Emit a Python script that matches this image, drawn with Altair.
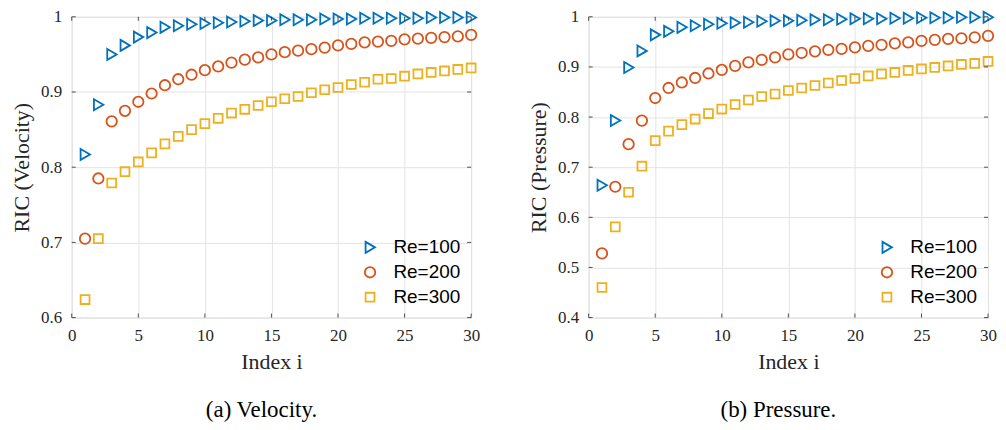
import altair as alt
import pandas as pd

# ---------------- data ----------------
idx = list(range(1, 31))
series_names = ["Re=100", "Re=200", "Re=300"]
colors = ["#0072BD", "#D95319", "#EDB120"]
shapes = ["M-0.85,-1.05L0.95,0L-0.85,1.05Z", "circle",
          "M-0.85,-0.85L0.85,-0.85L0.85,0.85L-0.85,0.85Z"]

vel_re100 = [0.817, 0.883, 0.950, 0.962, 0.973, 0.979, 0.986, 0.988, 0.990, 0.991,
             0.992, 0.993, 0.994, 0.995, 0.995, 0.996, 0.996, 0.996, 0.997, 0.997,
             0.997, 0.998, 0.998, 0.998, 0.998, 0.998, 0.999, 0.999, 0.999, 0.999]
vel_re200 = [0.705, 0.785, 0.861, 0.875, 0.887, 0.898, 0.909, 0.917, 0.923, 0.929,
             0.934, 0.939, 0.943, 0.946, 0.950, 0.953, 0.955, 0.957, 0.959, 0.962,
             0.964, 0.966, 0.967, 0.968, 0.970, 0.971, 0.972, 0.973, 0.974, 0.976]
vel_re300 = [0.624, 0.705, 0.779, 0.794, 0.807, 0.819, 0.831, 0.841, 0.850, 0.858,
             0.865, 0.872, 0.877, 0.882, 0.887, 0.891, 0.894, 0.899, 0.903, 0.906,
             0.910, 0.913, 0.917, 0.918, 0.921, 0.924, 0.926, 0.928, 0.930, 0.932]

pres_re100 = [0.664, 0.793, 0.899, 0.932, 0.964, 0.971, 0.979, 0.982, 0.985, 0.987,
              0.988, 0.989, 0.991, 0.992, 0.992, 0.993, 0.994, 0.994, 0.995, 0.996,
              0.996, 0.996, 0.997, 0.997, 0.998, 0.998, 0.998, 0.999, 0.999, 0.999]
pres_re200 = [0.528, 0.661, 0.746, 0.793, 0.838, 0.858, 0.869, 0.878, 0.887, 0.894,
              0.902, 0.909, 0.914, 0.919, 0.925, 0.928, 0.931, 0.934, 0.936, 0.939,
              0.942, 0.944, 0.947, 0.949, 0.952, 0.954, 0.956, 0.957, 0.959, 0.962]
pres_re300 = [0.460, 0.581, 0.650, 0.702, 0.753, 0.772, 0.785, 0.796, 0.807, 0.816,
              0.825, 0.834, 0.841, 0.846, 0.853, 0.858, 0.863, 0.868, 0.873, 0.877,
              0.882, 0.886, 0.889, 0.893, 0.896, 0.899, 0.902, 0.905, 0.907, 0.911]

x_ticks = [0, 5, 10, 15, 20, 25, 30]
vel_ticks = [0.6, 0.7, 0.8, 0.9, 1.0]
pres_ticks = [0.4, 0.5, 0.6, 0.7, 0.8, 0.9, 1.0]

# ---------------- style ----------------
W, H = 401, 302
SERIF = "Liberation Serif"
SANS = "Liberation Sans"
AXIS_COL = "#262626"
GRID_COL = "#e3e3e3"
TICK = 4
MSIZE = 110


def panel(vals, y_title, y_domain, y_ticks, caption):
    rows = []
    for name, v in zip(series_names, vals):
        for i, val in zip(idx, v):
            rows.append({"i": i, "v": val, "series": name})
    df = pd.DataFrame(rows)

    xs = alt.Scale(domain=[0, 30], nice=False, zero=False)
    ys = alt.Scale(domain=y_domain, nice=False, zero=False)

    leg = alt.Legend(
        title=None, orient="bottom-right", labelFont=SANS, labelFontSize=19,
        labelColor="#000000", symbolSize=MSIZE, symbolStrokeWidth=1.8,
        rowPadding=5, labelOffset=14, offset=6, padding=4,
    )

    pts = alt.Chart(df).mark_point(filled=False, strokeWidth=1.8, size=MSIZE, opacity=1).encode(
        x=alt.X("i:Q", scale=xs, axis=alt.Axis(
            values=x_ticks, title="Index i", grid=True, gridColor=GRID_COL,
            ticks=False, domain=False, labelFont=SERIF, labelFontSize=17,
            labelColor=AXIS_COL, labelPadding=10, titleFont=SERIF,
            titleFontSize=22, titleFontWeight="normal", titleColor=AXIS_COL,
            titlePadding=8, labelFlush=False)),
        y=alt.Y("v:Q", scale=ys, axis=alt.Axis(
            values=y_ticks, format=".1~f", title=y_title, grid=True,
            gridColor=GRID_COL, ticks=False, domain=False, labelFont=SERIF,
            labelFontSize=17, labelColor=AXIS_COL, labelPadding=10,
            titleFont=SERIF, titleFontSize=22, titleFontWeight="normal",
            titleColor=AXIS_COL, titlePadding=7, labelFlush=False)),
        color=alt.Color("series:N", scale=alt.Scale(domain=series_names, range=colors), legend=leg),
        shape=alt.Shape("series:N", scale=alt.Scale(domain=series_names, range=shapes), legend=leg),
    )

    yt = pd.DataFrame({"v": y_ticks})
    xt = pd.DataFrame({"i": x_ticks})
    rule = dict(color=AXIS_COL, strokeWidth=0.8)
    t_left = alt.Chart(yt).mark_rule(**rule).encode(
        y=alt.Y("v:Q", scale=ys), x=alt.value(0), x2=alt.value(TICK))
    t_right = alt.Chart(yt).mark_rule(**rule).encode(
        y=alt.Y("v:Q", scale=ys), x=alt.value(W - TICK), x2=alt.value(W))
    t_bot = alt.Chart(xt).mark_rule(**rule).encode(
        x=alt.X("i:Q", scale=xs), y=alt.value(H - TICK), y2=alt.value(H))
    t_top = alt.Chart(xt).mark_rule(**rule).encode(
        x=alt.X("i:Q", scale=xs), y=alt.value(0), y2=alt.value(TICK))

    return alt.layer(pts, t_left, t_right, t_bot, t_top).properties(
        width=W, height=H,
        title=alt.TitleParams(caption, orient="bottom", font=SERIF, fontSize=23,
                              fontWeight="normal", color="#000000", offset=27, dx=-10),
    )


left = panel([vel_re100, vel_re200, vel_re300], "RIC (Velocity)", [0.6, 1.0], vel_ticks, "(a) Velocity.")
right = panel([pres_re100, pres_re200, pres_re300], "RIC (Pressure)", [0.4, 1.0], pres_ticks, "(b) Pressure.")

chart = alt.hconcat(left, right, spacing=46).resolve_scale(
    color="independent", shape="independent", x="independent", y="independent"
).properties(
    padding={"left": 2, "top": -2, "right": 0, "bottom": 0}
).configure_view(
    stroke="#555555", strokeWidth=1
).configure(background="white")

chart.save("out.html", embed_options={"renderer": "svg", "actions": False})
